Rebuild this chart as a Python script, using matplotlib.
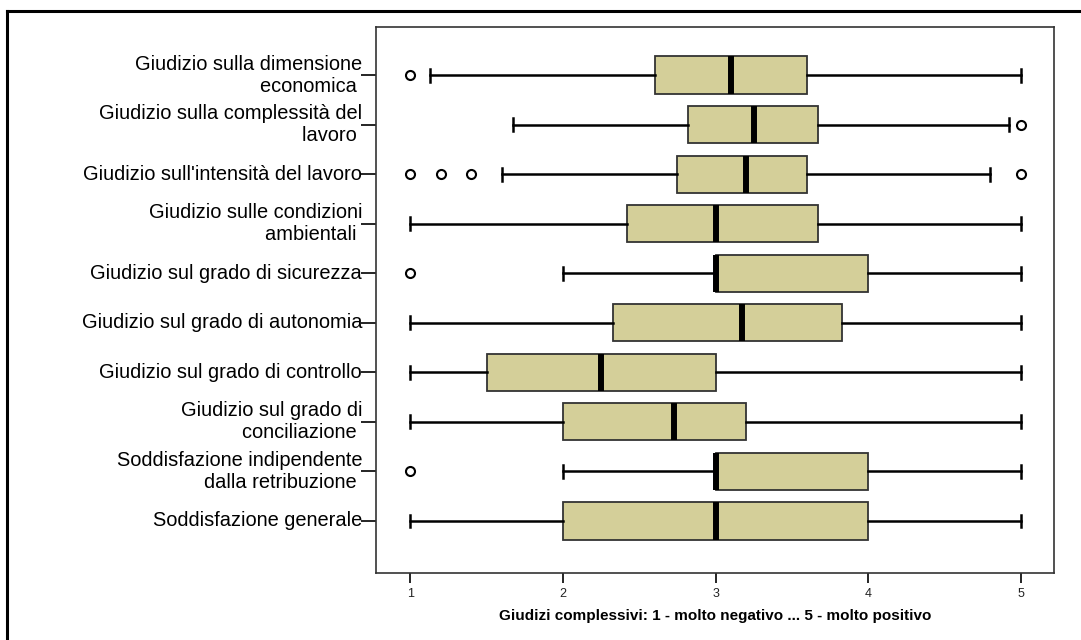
import matplotlib
matplotlib.use("Agg")
import matplotlib.pyplot as plt
from matplotlib.lines import Line2D

plt.rcParams['font.family'] = ['Liberation Sans', 'DejaVu Sans']

# categories from top to bottom
labels = [
    "Giudizio sulla dimensione\neconomica ",
    "Giudizio sulla complessità del\nlavoro ",
    "Giudizio sull'intensità del lavoro",
    "Giudizio sulle condizioni\nambientali ",
    "Giudizio sul grado di sicurezza",
    "Giudizio sul grado di autonomia",
    "Giudizio sul grado di controllo",
    "Giudizio sul grado di\nconciliazione ",
    "Soddisfazione indipendente\ndalla retribuzione ",
    "Soddisfazione generale",
]
whislo = [1.13, 1.67, 1.6, 1.0, 2.0, 1.0, 1.0, 1.0, 2.0, 1.0]
q1 = [2.6, 2.82, 2.75, 2.42, 3.0, 2.33, 1.5, 2.0, 3.0, 2.0]
med = [3.1, 3.25, 3.2, 3.0, 3.0, 3.17, 2.25, 2.73, 3.0, 3.0]
q3 = [3.6, 3.67, 3.6, 3.67, 4.0, 3.83, 3.0, 3.2, 4.0, 4.0]
whishi = [5.0, 4.92, 4.8, 5.0, 5.0, 5.0, 5.0, 5.0, 5.0, 5.0]
outliers = [[1.0], [5.0], [1.0, 1.2, 1.4, 5.0], [], [1.0], [], [], [], [1.0], []]

xticks = [1, 2, 3, 4, 5]
xlabel = "Giudizi complessivi: 1 - molto negativo ... 5 - molto positivo"

n = len(labels)
positions = list(range(n, 0, -1))

stats = []
for i in range(n):
    stats.append({
        'whislo': whislo[i], 'q1': q1[i], 'med': med[i], 'q3': q3[i],
        'whishi': whishi[i], 'fliers': outliers[i],
    })

fig = plt.figure(figsize=(10.81, 6.40), dpi=100)
ax = fig.add_axes([0.3478, 0.1047, 0.975 - 0.3478, 0.9578 - 0.1047])

ax.bxp(stats, positions=positions, vert=False, widths=0.75, capwidths=0.26,
       patch_artist=True, showfliers=True,
       boxprops=dict(facecolor='#D4CF99', edgecolor='#333333', linewidth=1.3),
       medianprops=dict(color='black', linewidth=4.3, solid_capstyle='butt'),
       whiskerprops=dict(color='black', linewidth=1.8),
       capprops=dict(color='black', linewidth=1.8),
       flierprops=dict(marker='o', markerfacecolor='none', markeredgecolor='black',
                       markersize=6.5, markeredgewidth=1.5))

ax.set_xlim(0.774, 5.218)
ax.set_ylim(-0.05, 10.97)
ax.set_xticks(xticks)
ax.set_xticklabels([str(t) for t in xticks], fontsize=9, color='#222222')
ax.set_yticks(positions)
ax.set_yticklabels(labels, fontsize=14.4, ha='right', va='center')
ax.tick_params(axis='y', length=11, width=1.2, pad=-1)
ax.tick_params(axis='x', length=7, width=1.2, pad=4)
ax.set_xlabel(xlabel, fontsize=11, fontweight='bold', labelpad=6)
for s in ax.spines.values():
    s.set_color('#333333')
    s.set_linewidth(1.2)

# outer frame (only top and left edges fall inside the image)
fig.add_artist(Line2D([7 / 1081, 1], [1 - 11 / 640, 1 - 11 / 640],
                      transform=fig.transFigure, color='black', linewidth=2.2))
fig.add_artist(Line2D([7 / 1081, 7 / 1081], [0, 1 - 11 / 640],
                      transform=fig.transFigure, color='black', linewidth=2.2))

fig.savefig("out.png", dpi=100)
